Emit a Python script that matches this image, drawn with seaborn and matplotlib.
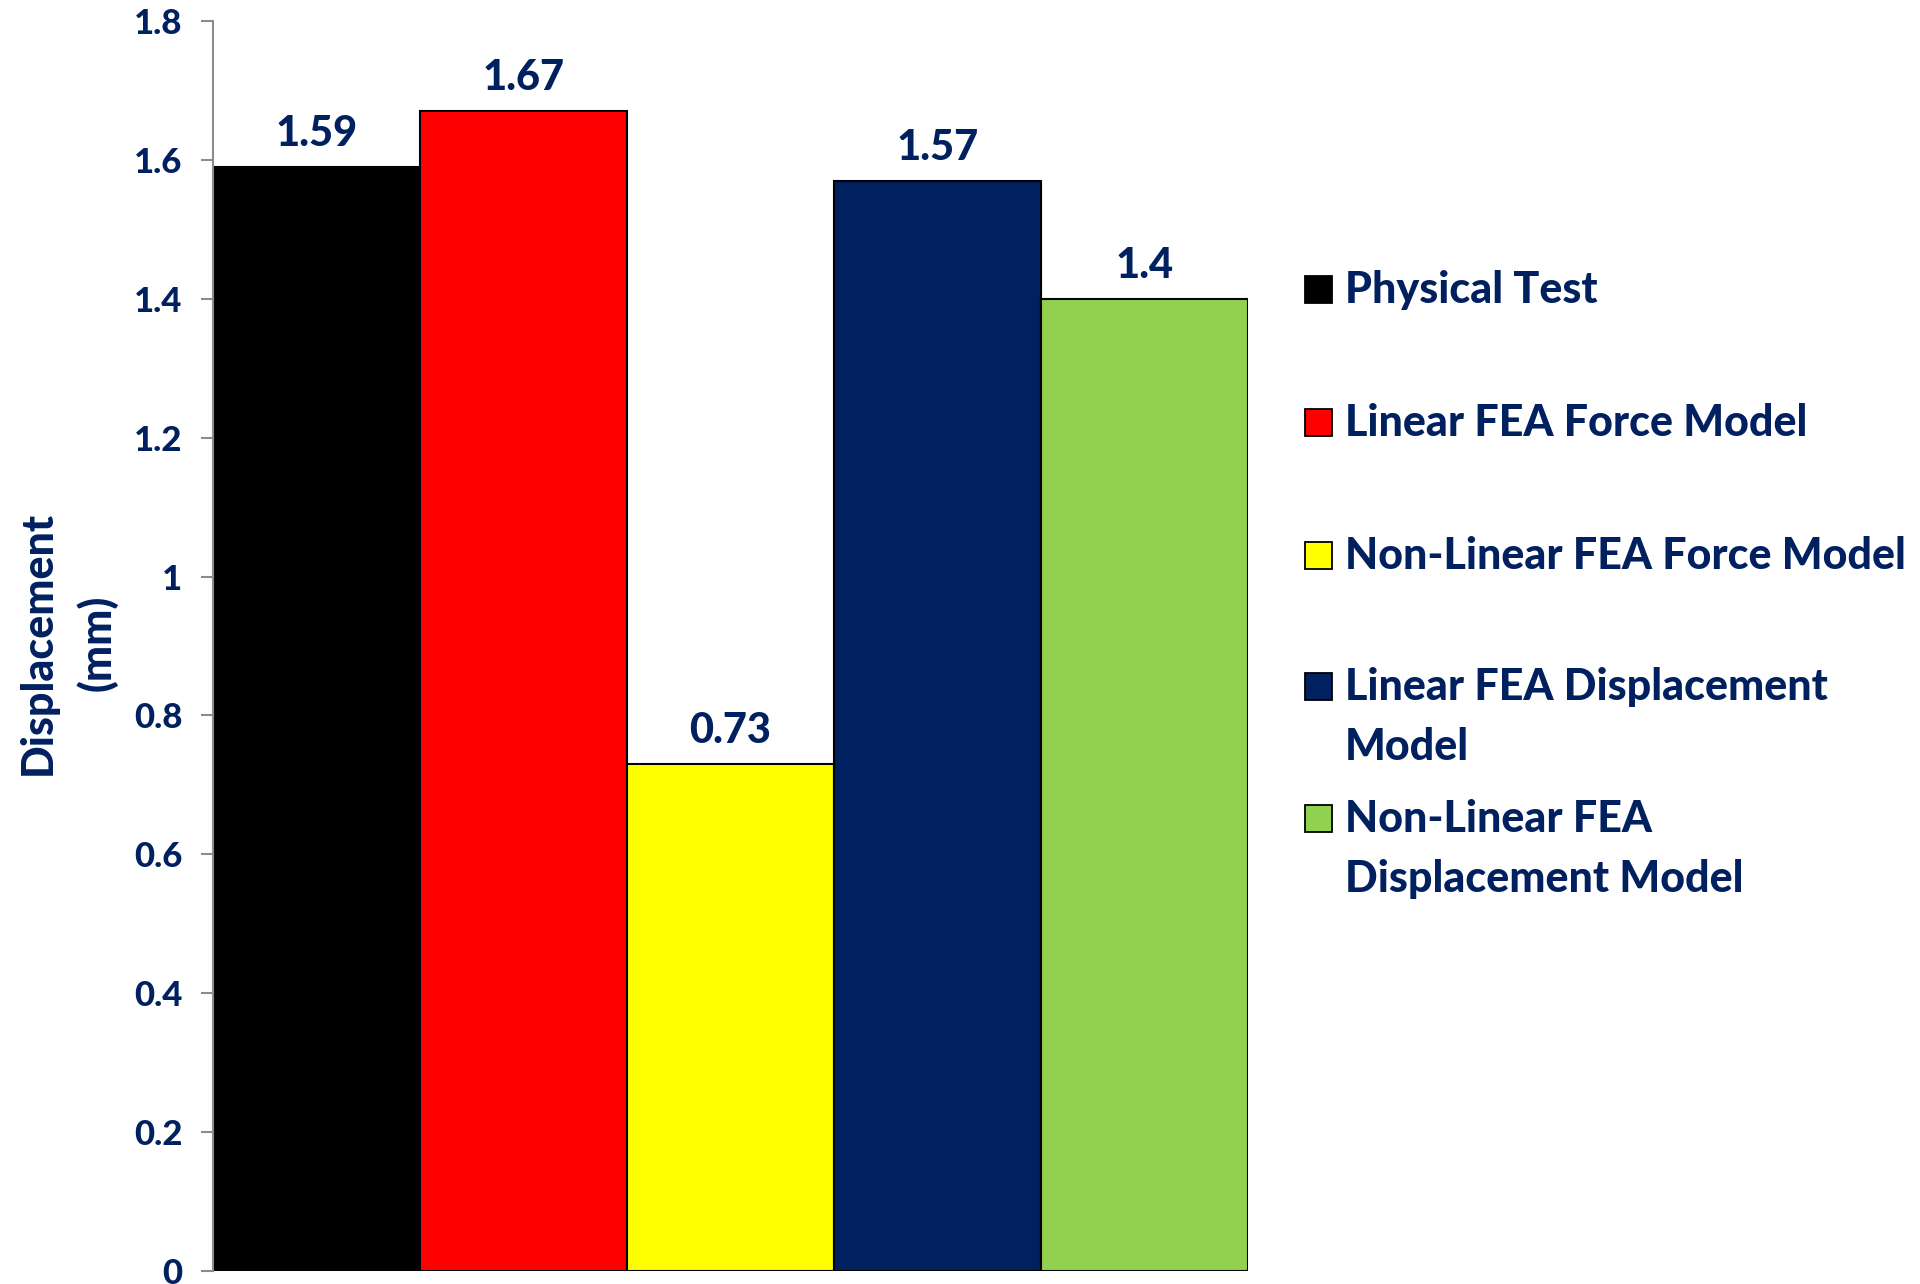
import matplotlib
matplotlib.use("Agg")
import matplotlib.pyplot as plt
import seaborn as sns
import pandas as pd
from matplotlib.patches import Rectangle

categories = [
    "Physical Test",
    "Linear FEA Force Model",
    "Non-Linear FEA Force Model",
    "Linear FEA Displacement Model",
    "Non-Linear FEA Displacement Model",
]
legend_lines = [
    ["Physical Test"],
    ["Linear FEA Force Model"],
    ["Non-Linear FEA Force Model"],
    ["Linear FEA Displacement", "Model"],
    ["Non-Linear FEA", "Displacement Model"],
]
values = [1.59, 1.67, 0.73, 1.57, 1.4]
colors = ["#000000", "#FF0000", "#FFFF00", "#002060", "#92D050"]
yticks = [0, 0.2, 0.4, 0.6, 0.8, 1.0, 1.2, 1.4, 1.6, 1.8]
ytick_labels = ["0", "0.2", "0.4", "0.6", "0.8", "1", "1.2", "1.4", "1.6", "1.8"]

navy = "#002060"
WEIGHT = 900
sns.set_theme(style="white")
plt.rcParams["font.family"] = ["Lato", "DejaVu Sans"]

df = pd.DataFrame({"model": categories, "disp": values})

W, H = 1920, 1284
fig = plt.figure(figsize=(W / 100, H / 100), dpi=100)
ax = fig.add_axes([213 / W, 1 - 1271 / H, (1248 - 213) / W, (1271 - 21) / H])

sns.barplot(data=df, x="model", y="disp", hue="model", order=categories,
            hue_order=categories, palette=colors, saturation=1, width=1.0,
            dodge=False, edgecolor="black", linewidth=1.5, legend=False, ax=ax)

for cont in ax.containers:
    ax.bar_label(cont, fmt="%g", padding=10, fontsize=30, fontweight=WEIGHT,
                 color=navy)

ax.set_xlim(-0.5, 4.5)
ax.set_ylim(0, 1.8)
ax.set_yticks(yticks)
ax.set_yticklabels(ytick_labels, fontsize=25, fontweight=WEIGHT, color=navy)
ax.set_xticks([])
ax.set_xlabel("")
ax.set_ylabel("")
ax.tick_params(axis="y", direction="out", length=9, width=1.5, color="#8c8c8c",
               left=True, pad=13)
for side in ["top", "right", "bottom"]:
    ax.spines[side].set_visible(False)
ax.spines["left"].set_color("#8c8c8c")
ax.spines["left"].set_linewidth(1.5)

# two-line axis title
fig.text(38 / W, 1 - 643 / H, "Displacement", rotation=90, ha="center",
         va="center", fontsize=31, fontweight=WEIGHT, color=navy)
fig.text(97 / W, 1 - 643 / H, "(mm)", rotation=90, ha="center",
         va="center", fontsize=31, fontweight=WEIGHT, color=navy)

# legend, placed in figure pixels (first-line baselines)
baselines = [303, 436, 569, 700, 832]
line_step = 60
for lines, col, yb in zip(legend_lines, colors, baselines):
    fig.patches.append(Rectangle((1305 / W, 1 - yb / H), 27 / W, 27 / H,
                                 transform=fig.transFigure, facecolor=col,
                                 edgecolor="black", linewidth=1.3))
    for i, txt in enumerate(lines):
        fig.text(1345 / W, 1 - (yb + i * line_step) / H, txt, ha="left",
                 va="baseline", fontsize=31, fontweight=WEIGHT, color=navy)

fig.savefig("out.png", dpi=100, facecolor="white")
